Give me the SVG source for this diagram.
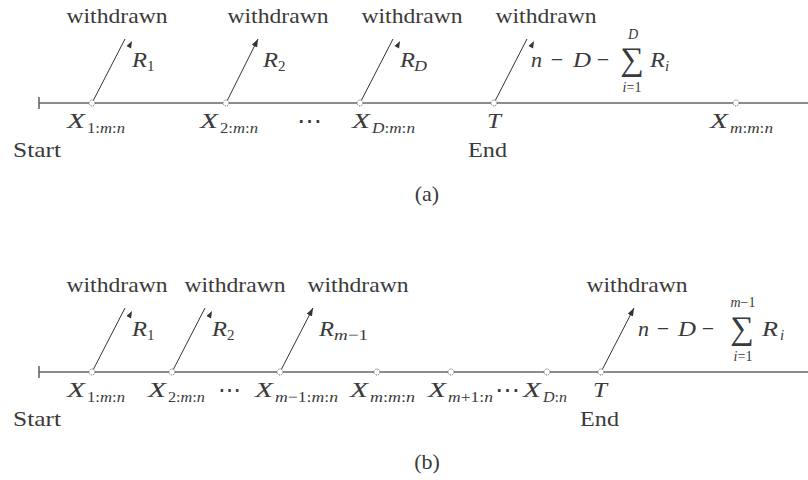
<svg xmlns="http://www.w3.org/2000/svg" width="808" height="480" viewBox="0 0 808 480">
<style>
text{font-family:"Liberation Serif","Times New Roman",Tinos,serif;fill:#3a3a3a}
.w{font-size:22px;text-anchor:middle}
.it{font-style:italic}
.b{font-size:22px}
.s{font-size:15px}
.op{font-size:22px;text-anchor:middle}
.sig{font-size:33px;text-anchor:middle}
.sc{font-size:14px;text-anchor:middle}
.axis{stroke:#666;stroke-width:1.6;fill:none}
.arr{stroke:#333;stroke-width:1;fill:none}
.pt{fill:#fff;stroke:#666;stroke-width:1;stroke-dasharray:1.2 1}
</style>
<defs>
<marker id="ah" viewBox="0 0 8 6" refX="8" refY="3" markerWidth="8" markerHeight="6" markerUnits="userSpaceOnUse" orient="auto"><path d="M0,0 L8,3 L0,6 Z" fill="#333"/></marker>
<path id="dh" d="M0,0 L-7,-2.6 L-7,2.6 Z" fill="#333"/>
</defs>

<g id="connectors">
<line class="axis" x1="39" y1="103" x2="808" y2="103"/>
<line class="axis" x1="39" y1="97" x2="39" y2="109"/>
<line class="arr" x1="92" y1="103" x2="125" y2="39"/>
<use href="#dh" transform="translate(132,41) rotate(-62.7)"/>
<line class="arr" x1="226" y1="103" x2="258" y2="39" marker-end="url(#ah)"/>
<line class="arr" x1="360" y1="103" x2="393" y2="39"/>
<use href="#dh" transform="translate(400,41) rotate(-62.7)"/>
<line class="arr" x1="494" y1="103" x2="527" y2="39"/>
<use href="#dh" transform="translate(534,41) rotate(-62.7)"/>
<line class="axis" x1="39" y1="372" x2="808" y2="372"/>
<line class="axis" x1="39" y1="366" x2="39" y2="378"/>
<line class="arr" x1="92" y1="372" x2="125" y2="308"/>
<use href="#dh" transform="translate(132,311) rotate(-62.7)"/>
<line class="arr" x1="172" y1="372" x2="205" y2="308"/>
<use href="#dh" transform="translate(212,311) rotate(-62.7)"/>
<line class="arr" x1="280" y1="372" x2="313" y2="308" marker-end="url(#ah)"/>
<line class="arr" x1="601" y1="372" x2="634" y2="308" marker-end="url(#ah)"/>
</g>

<g id="a-start"><text class="b" x="13" y="157" textLength="48" lengthAdjust="spacingAndGlyphs">Start</text></g>

<g id="a-x1">
<circle class="pt" cx="92" cy="103" r="3"/>
<text class="w" x="117" y="23" textLength="101" lengthAdjust="spacingAndGlyphs">withdrawn</text>
<text class="b it" x="132" y="67" textLength="15" lengthAdjust="spacingAndGlyphs">R</text><text class="s" x="147" y="71">1</text>
<text class="b it" x="67" y="128" textLength="18" lengthAdjust="spacingAndGlyphs">X</text>
<text class="s" x="87" y="133" textLength="38" lengthAdjust="spacingAndGlyphs">1:<tspan class="it">m</tspan>:<tspan class="it">n</tspan></text>
</g>

<g id="a-x2">
<circle class="pt" cx="226" cy="103" r="3"/>
<text class="w" x="278" y="23" textLength="101" lengthAdjust="spacingAndGlyphs">withdrawn</text>
<text class="b it" x="263" y="67" textLength="15" lengthAdjust="spacingAndGlyphs">R</text><text class="s" x="278" y="71">2</text>
<text class="b it" x="200" y="128" textLength="18" lengthAdjust="spacingAndGlyphs">X</text>
<text class="s" x="220" y="133" textLength="38" lengthAdjust="spacingAndGlyphs">2:<tspan class="it">m</tspan>:<tspan class="it">n</tspan></text>
</g>

<g id="a-dots"><text class="b" x="297" y="128" textLength="25" lengthAdjust="spacingAndGlyphs">⋯</text></g>

<g id="a-xD">
<circle class="pt" cx="360" cy="103" r="3"/>
<text class="w" x="412" y="23" textLength="101" lengthAdjust="spacingAndGlyphs">withdrawn</text>
<text class="b it" x="400" y="67" textLength="15" lengthAdjust="spacingAndGlyphs">R</text><text class="s it" x="414" y="71" textLength="13" lengthAdjust="spacingAndGlyphs">D</text>
<text class="b it" x="352" y="128" textLength="18" lengthAdjust="spacingAndGlyphs">X</text>
<text class="s" x="372" y="133" textLength="43" lengthAdjust="spacingAndGlyphs"><tspan class="it">D</tspan>:<tspan class="it">m</tspan>:<tspan class="it">n</tspan></text>
</g>

<g id="a-T">
<circle class="pt" cx="494" cy="103" r="3"/>
<text class="w" x="546" y="23" textLength="101" lengthAdjust="spacingAndGlyphs">withdrawn</text>
<text class="b it" x="531" y="67">n</text>
<text class="op" x="557" y="67">−</text>
<text class="b it" x="573" y="67" textLength="18" lengthAdjust="spacingAndGlyphs">D</text>
<text class="op" x="603" y="67">−</text>
<text class="sc it" x="633" y="39">D</text>
<text class="sig" x="632" y="70">∑</text>
<text class="sc" x="632" y="92"><tspan class="it">i</tspan>=1</text>
<text class="b it" x="650" y="67" textLength="15" lengthAdjust="spacingAndGlyphs">R</text><text class="s it" x="665" y="71">i</text>
<text class="b it" x="487" y="128" textLength="14" lengthAdjust="spacingAndGlyphs">T</text>
<text class="b" x="468" y="157" textLength="39" lengthAdjust="spacingAndGlyphs">End</text>
</g>

<g id="a-xm">
<circle class="pt" cx="736" cy="103" r="3"/>
<text class="b it" x="710" y="128" textLength="18" lengthAdjust="spacingAndGlyphs">X</text>
<text class="s" x="730" y="133" textLength="43" lengthAdjust="spacingAndGlyphs"><tspan class="it">m</tspan>:<tspan class="it">m</tspan>:<tspan class="it">n</tspan></text>
</g>

<g id="a-cap"><text class="b" x="427" y="201" text-anchor="middle">(a)</text></g>

<g id="b-start"><text class="b" x="13" y="426" textLength="48" lengthAdjust="spacingAndGlyphs">Start</text></g>

<g id="b-x1">
<circle class="pt" cx="92" cy="372" r="3"/>
<text class="w" x="117" y="292" textLength="101" lengthAdjust="spacingAndGlyphs">withdrawn</text>
<text class="b it" x="132" y="336" textLength="15" lengthAdjust="spacingAndGlyphs">R</text><text class="s" x="147" y="340">1</text>
<text class="b it" x="67" y="397" textLength="18" lengthAdjust="spacingAndGlyphs">X</text>
<text class="s" x="87" y="402" textLength="38" lengthAdjust="spacingAndGlyphs">1:<tspan class="it">m</tspan>:<tspan class="it">n</tspan></text>
</g>

<g id="b-x2">
<circle class="pt" cx="172" cy="372" r="3"/>
<text class="w" x="235" y="292" textLength="101" lengthAdjust="spacingAndGlyphs">withdrawn</text>
<text class="b it" x="212" y="336" textLength="15" lengthAdjust="spacingAndGlyphs">R</text><text class="s" x="227" y="340">2</text>
<text class="b it" x="148" y="397" textLength="18" lengthAdjust="spacingAndGlyphs">X</text>
<text class="s" x="168" y="402" textLength="37" lengthAdjust="spacingAndGlyphs">2:<tspan class="it">m</tspan>:<tspan class="it">n</tspan></text>
</g>

<g id="b-dots1"><text class="b" x="218" y="397" textLength="23" lengthAdjust="spacingAndGlyphs">⋯</text></g>

<g id="b-xm1">
<circle class="pt" cx="280" cy="372" r="3"/>
<text class="w" x="358" y="292" textLength="101" lengthAdjust="spacingAndGlyphs">withdrawn</text>
<text class="b it" x="319" y="336" textLength="15" lengthAdjust="spacingAndGlyphs">R</text>
<text class="s" x="334" y="340" textLength="34" lengthAdjust="spacingAndGlyphs"><tspan class="it">m</tspan>−1</text>
<text class="b it" x="255" y="397" textLength="18" lengthAdjust="spacingAndGlyphs">X</text>
<text class="s" x="275" y="402" textLength="63" lengthAdjust="spacingAndGlyphs"><tspan class="it">m</tspan>−1:<tspan class="it">m</tspan>:<tspan class="it">n</tspan></text>
</g>

<g id="b-xm">
<circle class="pt" cx="377" cy="372" r="3"/>
<text class="b it" x="350" y="397" textLength="18" lengthAdjust="spacingAndGlyphs">X</text>
<text class="s" x="370" y="402" textLength="45" lengthAdjust="spacingAndGlyphs"><tspan class="it">m</tspan>:<tspan class="it">m</tspan>:<tspan class="it">n</tspan></text>
</g>

<g id="b-xm1n">
<circle class="pt" cx="451" cy="372" r="3"/>
<text class="b it" x="428" y="397" textLength="18" lengthAdjust="spacingAndGlyphs">X</text>
<text class="s" x="448" y="402" textLength="45" lengthAdjust="spacingAndGlyphs"><tspan class="it">m</tspan>+1:<tspan class="it">n</tspan></text>
</g>

<g id="b-dots2"><text class="b" x="495" y="397" textLength="25" lengthAdjust="spacingAndGlyphs">⋯</text></g>

<g id="b-xD">
<circle class="pt" cx="547" cy="372" r="3"/>
<text class="b it" x="523" y="397" textLength="18" lengthAdjust="spacingAndGlyphs">X</text>
<text class="s" x="543" y="402" textLength="24" lengthAdjust="spacingAndGlyphs"><tspan class="it">D</tspan>:<tspan class="it">n</tspan></text>
</g>

<g id="b-T">
<circle class="pt" cx="601" cy="372" r="3"/>
<text class="w" x="637" y="292" textLength="101" lengthAdjust="spacingAndGlyphs">withdrawn</text>
<text class="b it" x="638" y="336">n</text>
<text class="op" x="663" y="336">−</text>
<text class="b it" x="678" y="336" textLength="18" lengthAdjust="spacingAndGlyphs">D</text>
<text class="op" x="708" y="336">−</text>
<text class="sc" x="743" y="307"><tspan class="it">m</tspan>−1</text>
<text class="sig" x="742" y="339">∑</text>
<text class="sc" x="743" y="361"><tspan class="it">i</tspan>=1</text>
<text class="b it" x="762" y="336" textLength="16" lengthAdjust="spacingAndGlyphs">R</text><text class="s it" x="780" y="340">i</text>
<text class="b it" x="593" y="397" textLength="14" lengthAdjust="spacingAndGlyphs">T</text>
<text class="b" x="580" y="426" textLength="39" lengthAdjust="spacingAndGlyphs">End</text>
</g>

<g id="b-cap"><text class="b" x="427" y="469" text-anchor="middle">(b)</text></g>
</svg>
